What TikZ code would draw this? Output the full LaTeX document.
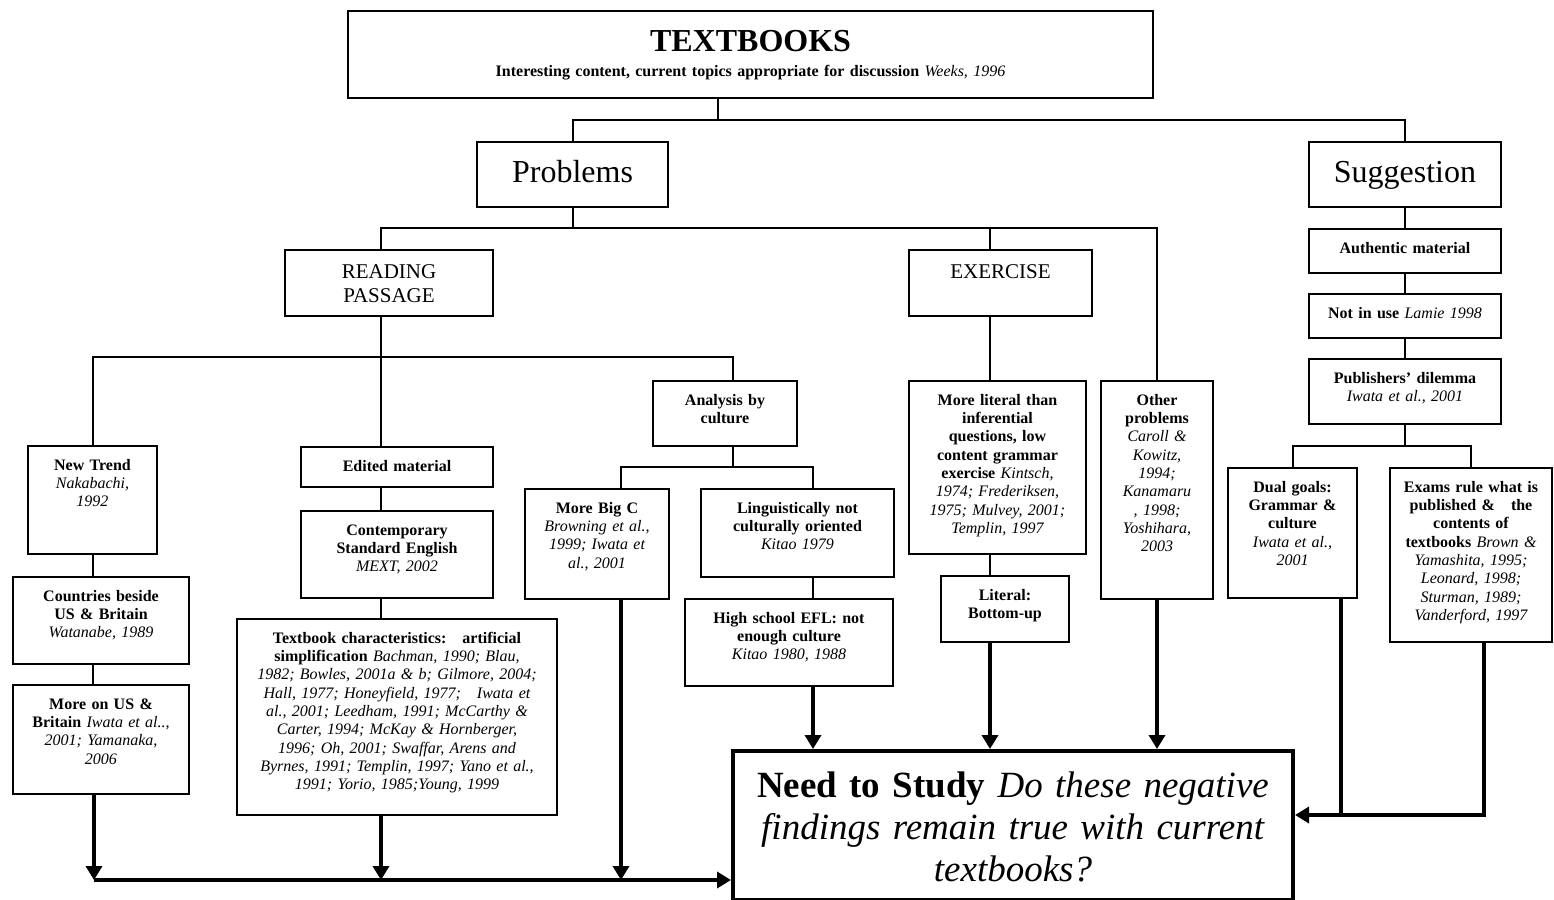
\documentclass[tikz,border=0pt]{standalone}
\usepackage{fontspec}
\setmainfont{Liberation Serif}
\usetikzlibrary{arrows.meta}
\newcommand{\refs}[1]{{\mdseries\itshape #1}}

\begin{document}
\begin{tikzpicture}[x=0.5pt,y=-0.5pt,>={Triangle[length=7pt,width=8pt]},line width=1pt,
  box/.style={draw,line width=1.2pt,fill=white,anchor=north,align=center,inner xsep=2pt,inner ysep=3pt,
    text height=9pt,font=\fontsize{8}{9.15}\selectfont\bfseries},
  cell/.style 2 args={text width=#1*0.5pt-4pt,text depth=#2*0.5pt-15pt},
  mid/.style={font=\fontsize{10.5}{12}\selectfont,text height=11.25pt},
  head/.style={draw,line width=1.2pt,anchor=north,inner sep=0pt,text height=11pt,text depth=3.5pt,
    font=\fontsize{16}{18}\selectfont},
  heavy/.style={line width=2pt}]

  \path[fill=white,use as bounding box] (0,0) rectangle (1554,900);

  \node[box,text width=398.5pt,text height=17pt,text depth=20.5pt] (tb) at (750.5,10)
    {{\fontsize{16}{12.5}\selectfont TEXTBOOKS}\\[3.3pt]
     Interesting content, current topics appropriate for discussion \refs{Weeks, 1996}};

  \node[head,minimum width=95.5pt,minimum height=32.5pt] (prob) at (572.5,141) {Problems};
  \node[head,minimum width=96pt,minimum height=32.5pt] (sug) at (1405,141) {Suggestion};

  \node[box,mid,text width=100pt,text depth=15.75pt] (rp) at (389,249) {READING\\ PASSAGE};
  \node[box,mid,text width=87.5pt,text depth=15.75pt] (ex) at (1000.5,249) {EXERCISE};

  \node[box,cell={129}{108}] (nt) at (92.5,445) {New Trend\\ \refs{Nakabachi,}\\ \refs{1992}};
  \node[box,cell={176}{87}] (ctry) at (101,576) {Countries beside\\ US \& Britain\\ \refs{Watanabe, 1989}};
  \node[box,cell={176}{109}] (usb) at (101,684)
    {More on US \&\\ Britain \refs{Iwata et al..,}\\ \refs{2001; Yamanaka,}\\ \refs{2006}};

  \node[box,cell={192}{40}] (edit) at (397,446) {Edited material};
  \node[box,cell={192}{87}] (std) at (397,510) {Contemporary\\ Standard English\\ \refs{MEXT, 2002}};
  \node[box,cell={320}{196}] (tchar) at (397,618)
    {Textbook characteristics:\quad artificial\\
     simplification \refs{Bachman, 1990; Blau,}\\
     \refs{1982; Bowles, 2001a \& b; Gilmore, 2004;}\\
     \refs{Hall, 1977; Honeyfield, 1977;\quad Iwata et}\\
     \refs{al., 2001; Leedham, 1991; McCarthy \&}\\
     \refs{Carter, 1994; McKay \& Hornberger,}\\
     \refs{1996; Oh, 2001; Swaffar, Arens and}\\
     \refs{Byrnes, 1991; Templin, 1997; Yano et al.,}\\
     \refs{1991; Yorio, 1985;Young, 1999}};

  \node[box,cell={144}{65}] (cult) at (725,380) {Analysis by\\ culture};
  \node[box,cell={144}{110}] (bigc) at (597,488)
    {More Big C\\ \refs{Browning et al.,}\\ \refs{1999; Iwata et}\\ \refs{al., 2001}};
  \node[box,cell={193}{88}] (ling) at (797.5,488) {Linguistically not\\ culturally oriented\\ \refs{Kitao 1979}};
  \node[box,cell={208}{87}] (efl) at (789,598) {High school EFL: not\\ enough culture\\ \refs{Kitao 1980, 1988}};

  \node[box,cell={177}{173}] (lit) at (997.5,380)
    {More literal than\\ inferential\\ questions, low\\ content grammar\\ exercise \refs{Kintsch,}\\
     \refs{1974; Frederiksen,}\\ \refs{1975; Mulvey, 2001;}\\ \refs{Templin, 1997}};
  \node[box,cell={128}{66}] (bup) at (1005,575) {Literal:\\ Bottom-up};
  \node[box,cell={112}{218}] (oth) at (1157,380)
    {Other\\ problems\\ \refs{Caroll \&}\\ \refs{Kowitz,}\\ \refs{1994;}\\ \refs{Kanamaru}\\
     \refs{, 1998;}\\ \refs{Yoshihara,}\\ \refs{2003}};

  \node[box,cell={192}{44}] (auth) at (1405,228) {Authentic material};
  \node[box,cell={192}{44}] (use) at (1405,293) {Not in use \refs{Lamie 1998}};
  \node[box,cell={192}{65}] (pub) at (1405,358) {Publishers' dilemma\\ \refs{Iwata et al., 2001}};
  \node[box,cell={129}{130}] (dual) at (1292.5,467)
    {Dual goals:\\ Grammar \&\\ culture\\ \refs{Iwata et al.,}\\ \refs{2001}};
  \node[box,cell={162}{174}] (exam) at (1471,467)
    {Exams rule what is\\ published \&\quad the\\ contents of\\ textbooks \refs{Brown \&}\\
     \refs{Yamashita, 1995;}\\ \refs{Leonard, 1998;}\\ \refs{Sturman, 1989;}\\ \refs{Vanderford, 1997}};

  \node[box,line width=2pt,text width=276pt,text height=20pt,text depth=48.5pt,
    font=\fontsize{18.5}{21}\selectfont] (need) at (1013,749)
    {\textbf{Need to Study} \textit{Do these negative}\\
     \textit{findings remain true with current}\\ \textit{textbooks?}};

  \coordinate (j0) at (718,120);
  \coordinate (j1) at (381,228);
  \coordinate (j2) at (990,228);
  \coordinate (j3) at (733,357);
  \coordinate (j4) at (621,467);
  \coordinate (j5) at (813,467);
  \coordinate (j6) at (1405,446);
  \coordinate (j7) at (94,880);
  \coordinate (j8) at (1484,815);
  \coordinate (j9) at (1341,815);

  \draw (tb.south -| j0) -- (j0);
  \draw (prob.north) |- (j0) -| (sug.north);
  \draw (prob.south) -- (prob.south |- j1);
  \draw (rp.north -| j1) -- (j1) -| (oth.north);
  \draw (ex.north -| j2) -- (j2);

  \draw (rp.south -| j1) -- (edit.north -| j1);
  \draw (nt.north) |- (j3) -- (cult.north -| j3);
  \draw (nt.south) -- (ctry.north -| nt.south);
  \draw (ctry.south -| nt.south) -- (usb.north -| nt.south);
  \draw (edit.south -| j1) -- (std.north -| j1);
  \draw (std.south -| j1) -- (tchar.north -| j1);
  \draw (cult.south -| j3) -- (j3 |- j4);
  \draw (j4 |- bigc.north) -- (j4) -- (j5) -- (j5 |- ling.north);
  \draw (ling.south -| j5) -- (efl.north -| j5);

  \draw (ex.south -| j2) -- (lit.north -| j2);
  \draw (lit.south -| j2) -- (bup.north -| j2);

  \draw (sug.south) -- (auth.north);
  \draw (auth.south) -- (use.north);
  \draw (use.south) -- (pub.north);
  \draw (pub.south) -- (j6);
  \draw (dual.north) |- (j6) -| (exam.north);

  \draw[heavy,->] (usb.south -| j7) -- (j7);
  \draw[heavy,->] (tchar.south -| j1) -- (j1 |- j7);
  \draw[heavy,->] (bigc.south -| j4) -- (j4 |- j7);
  \draw[heavy,->] (j7) -- (need.west |- j7);
  \draw[heavy,->] (efl.south -| j5) -- (need.north -| j5);
  \draw[heavy,->] (bup.south -| j2) -- (need.north -| j2);
  \draw[heavy,->] (oth.south) -- (need.north -| oth.south);
  \draw[heavy] (dual.south -| j9) -- (j9);
  \draw[heavy,->] (exam.south -| j8) -- (j8) -- (need.east |- j8);

\end{tikzpicture}
\end{document}
